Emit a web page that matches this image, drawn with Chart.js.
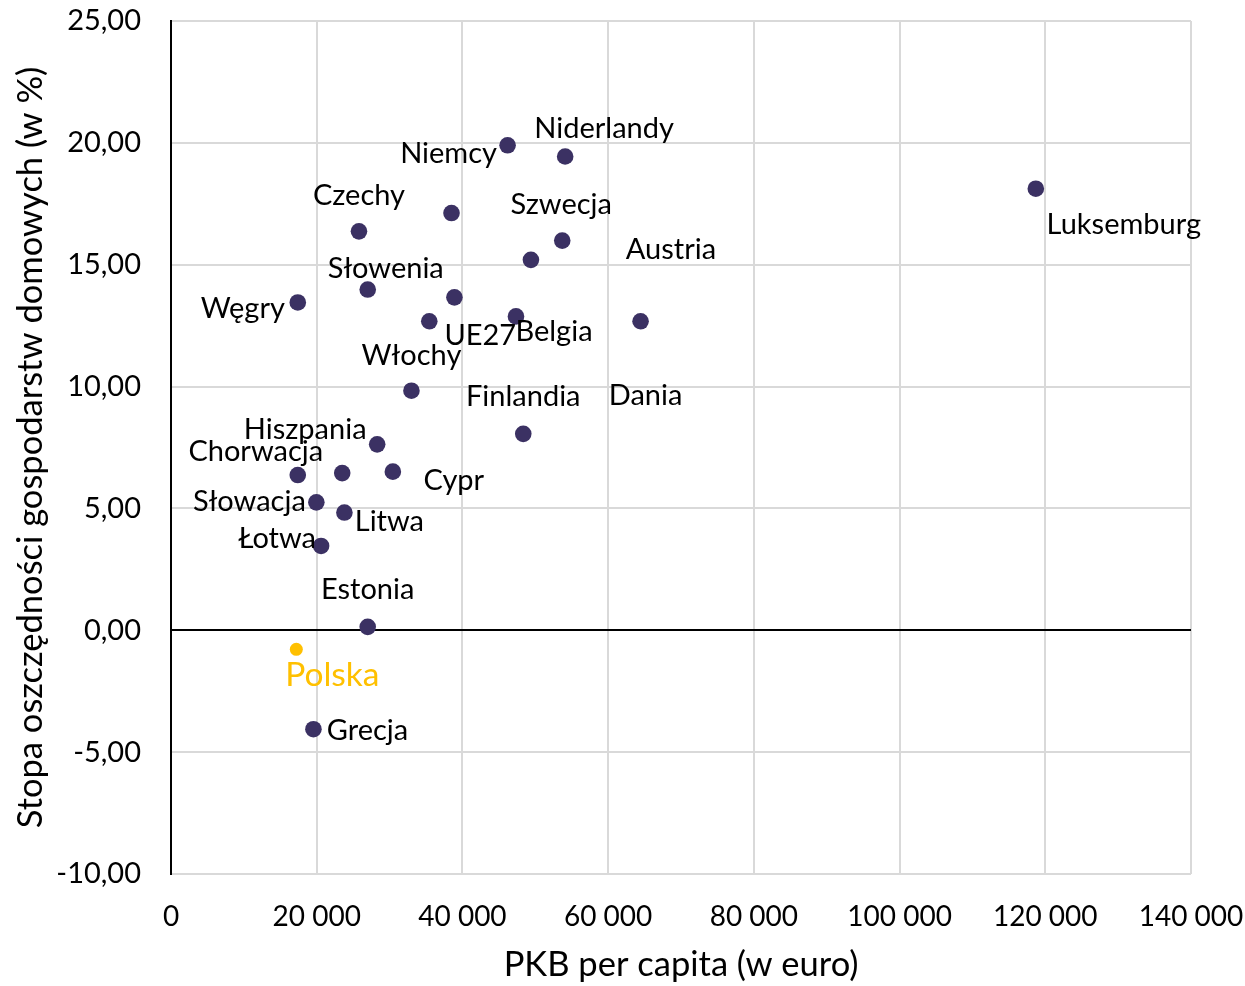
<!DOCTYPE html>
<html>
<head>
<meta charset="utf-8">
<script src="https://cdn.jsdelivr.net/npm/chart.js@4.4.0/dist/chart.umd.min.js"></script>
<style>
  html, body { margin: 0; padding: 0; background: #ffffff; }
  #wrap { width: 1245px; height: 986px; position: relative; }
</style>
</head>
<body>
<div id="wrap"><canvas id="c" width="1245" height="986"></canvas></div>
<script>
// ---- Data ----
const names = [
  'Luksemburg', 'Niemcy', 'Niderlandy', '', 'Czechy', 'Szwecja', 'Austria',
  'Słowenia', '', 'Węgry', 'UE27', 'Belgia', 'Dania', 'Włochy', 'Finlandia',
  'Hiszpania', 'Chorwacja', '', 'Cypr', 'Słowacja', 'Litwa', 'Łotwa',
  'Estonia', 'Polska', 'Grecja'
];
const gdpPerCapita = [
  118700, 46200, 54100, 38500, 25800, 53700, 49400,
  27000, 38900, 17400, 35450, 47350, 64450, 33000, 48350,
  28300, 17400, 23500, 30450, 19950, 23800, 20600,
  27000, 17200, 19550
];
const savingsRate = [
  18.12, 19.90, 19.44, 17.12, 16.37, 15.99, 15.20,
  13.98, 13.66, 13.45, 12.68, 12.88, 12.68, 9.83, 8.06,
  7.63, 6.37, 6.45, 6.51, 5.25, 4.83, 3.46,
  0.14, -0.78, -4.06
];
const xTickLabels = ['0', '20 000', '40 000', '60 000', '80 000', '100 000', '120 000', '140 000'];
const yTickLabels = ['-10,00', '-5,00', '0,00', '5,00', '10,00', '15,00', '20,00', '25,00'];
const xTitle = 'PKB per capita (w euro)';
const yTitle = 'Stopa oszczędności gospodarstw domowych (w %)';
const highlight = 'Polska';

// ---- Styles ----
const FONT = 'Lato';
const DARK = '#3b3163';
const YELLOW = '#ffc000';
const GRID = '#d9d9d9';
// label placement relative to its point (pixels)
const labelOffsets = {
  'Luksemburg': [88, 36], 'Niemcy': [-59, 8], 'Niderlandy': [39, -28],
  'Czechy': [0, -36], 'Szwecja': [-1, -36], 'Austria': [140, -10],
  'Słowenia': [18, -21], 'Węgry': [-55, 6], 'UE27': [51, 14],
  'Belgia': [38, 15], 'Dania': [5, 74], 'Włochy': [0, -35],
  'Finlandia': [0, -37], 'Hiszpania': [-72, -15], 'Chorwacja': [-42, -23],
  'Cypr': [61, 9], 'Słowacja': [-67, -1], 'Litwa': [45, 9],
  'Łotwa': [-44, -7], 'Estonia': [0, -37], 'Polska': [36, 26], 'Grecja': [54, 1]
};

const points = gdpPerCapita.map((x, i) => ({ x: x, y: savingsRate[i] }));

const labelPlugin = {
  id: 'pointLabels',
  afterDatasetsDraw(chart) {
    const ctx = chart.ctx;
    const meta = chart.getDatasetMeta(0);
    ctx.save();
    ctx.textAlign = 'center';
    ctx.textBaseline = 'middle';
    meta.data.forEach((el, i) => {
      const name = names[i];
      if (!name) return;
      const off = labelOffsets[name] || [0, -30];
      const isHi = name === highlight;
      ctx.font = (isHi ? '33.5px ' : '29px ') + FONT;
      ctx.fillStyle = isHi ? YELLOW : '#000000';
      ctx.fillText(name, el.x + off[0], el.y + off[1]);
    });
    ctx.restore();
  }
};

function noEdgePadding(s) {
  s.paddingTop = 0; s.paddingBottom = 0; s.paddingLeft = 0; s.paddingRight = 0;
}

new Chart(document.getElementById('c'), {
  type: 'scatter',
  data: {
    datasets: [{
      data: points,
      pointRadius: ctx => names[ctx.dataIndex] === highlight ? 6.5 : 8.3,
      pointHoverRadius: ctx => names[ctx.dataIndex] === highlight ? 6.5 : 8.3,
      pointBackgroundColor: ctx => names[ctx.dataIndex] === highlight ? YELLOW : DARK,
      pointBorderWidth: 0,
      borderWidth: 0
    }]
  },
  options: {
    responsive: false,
    animation: false,
    events: [],
    layout: { padding: { left: 0, right: 54, top: 21, bottom: 0 } },
    plugins: {
      legend: { display: false },
      tooltip: { enabled: false }
    },
    scales: {
      x: {
        type: 'linear',
        min: 0, max: 140000,
        ticks: {
          stepSize: 20000,
          color: '#000',
          font: { family: FONT, size: 28 },
          padding: 26,
          maxRotation: 0,
          callback: v => xTickLabels[Math.round(v / 20000)]
        },
        grid: {
          color: ctx => (ctx.tick && ctx.tick.value === 0) ? 'rgba(0,0,0,0)' : GRID,
          lineWidth: 2,
          drawTicks: false
        },
        border: { display: false },
        title: {
          display: true, text: xTitle, color: '#000',
          font: { family: FONT, size: 34.5 }, padding: { top: 0, bottom: 0 }
        },
        afterFit: s => { s.height = 112; noEdgePadding(s); }
      },
      y: {
        type: 'linear',
        min: -10, max: 25,
        ticks: {
          stepSize: 5,
          color: '#000',
          font: { family: FONT, size: 29 },
          padding: 30,
          callback: v => yTickLabels[Math.round((v + 10) / 5)]
        },
        grid: {
          color: ctx => (ctx.tick && ctx.tick.value === 0) ? '#000000' : GRID,
          lineWidth: 2,
          drawTicks: false
        },
        border: { display: true, color: '#000000', width: 2 },
        title: {
          display: true, text: yTitle, color: '#000',
          font: { family: FONT, size: 34.5 }, padding: { top: 10, bottom: 0 }
        },
        afterFit: s => { s.width = 171; noEdgePadding(s); }
      }
    }
  },
  plugins: [labelPlugin]
});
</script>
</body>
</html>
